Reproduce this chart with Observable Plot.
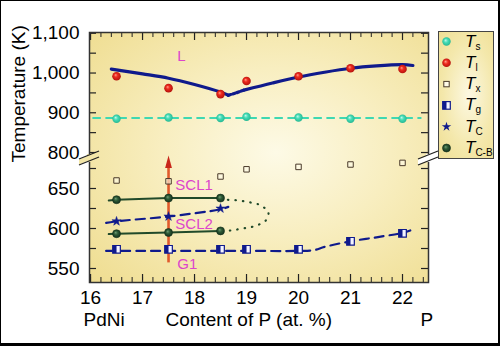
<!DOCTYPE html>
<html><head><meta charset="utf-8">
<script src="https://cdn.jsdelivr.net/npm/d3@7"></script>
<script src="https://cdn.jsdelivr.net/npm/@observablehq/plot@0.6"></script>
<style>
html,body{margin:0;padding:0;background:#fff;}
#wrap{position:relative;width:500px;height:346px;overflow:hidden;font-family:"Liberation Sans",Arial,Helvetica,sans-serif;}
#border{position:absolute;left:0;top:0;width:500px;height:346px;box-sizing:border-box;border-style:solid;border-color:#000;border-width:1px 2px 3px 1px;pointer-events:none;}
#legend{position:absolute;left:438px;top:31px;width:56px;height:128px;box-sizing:border-box;border:1.5px solid #444;
 background:radial-gradient(ellipse at 55% 50%, #fcf8e2 0%, #f4e8ac 60%, #efdf94 100%);}
#legend svg{position:absolute;left:0;top:0;overflow:visible;}
</style></head>
<body><div id="wrap"><div id="chart"></div><div id="legend"></div><div id="border"></div></div>
<script>
// ---------- data ----------
const comp = [16.5, 17.5, 18.5, 19, 20, 21, 22];            // at.% P
const Ts   = [885, 888, 887, 890, 888, 885, 885];
const Tl   = [992, 962, 947, 980, 992, 1012, 1010];
const Tx   = [660, 659, 665, 674, 677, 680, 682];
const Tg   = [574, 574, 574, 574, 574, 584, 594];
const compSCL = [16.5, 17.5, 18.5];
const Tc      = [609, 615, 625];
const TcbHi   = [636, 638, 638];
const TcbLo   = [593.5, 595, 597];

// guide curves
const TsLineX = [16.05, 22.35], TsLineY = [887, 887];
const L1x = [16.4, 17, 17.5, 18, 18.5, 18.65], L1y = [1010, 998, 987, 971, 952, 944];
const L2x = [18.65, 18.8, 18.95], L2y = [944, 950, 957];
const L3x = [18.95, 19.5, 20, 20.5, 21, 21.5, 22, 22.2], L3y = [957, 975, 990, 1002, 1012, 1018, 1021, 1019];
const TgLineX = [16.3, 17, 18, 19, 20, 20.3, 20.5, 21, 21.5, 22, 22.15];
const TgLineY = [572, 572, 572, 572, 572, 573, 577, 584, 589, 594.5, 597.5];
const TcLineX = [16.3, 16.5, 17.5, 18.5, 18.65], TcLineY = [607, 609, 615, 624, 627];
const CBhiX = [16.35, 16.5, 17.5, 18.5], CBhiY = [635, 636, 638, 638];
const CBloX = [16.35, 16.5, 17.5, 18.5], CBloY = [593, 593.5, 595, 597];
const noseX = [18.5, 18.63, 18.85, 19.08, 19.27, 19.42, 19.37, 19.13, 18.92, 18.69, 18.5];
const noseY = [637.5, 636, 635, 632.5, 629, 620, 610, 602.5, 600, 597.5, 597.5];
const arrowX = 17.5, arrowY = [557, 683];

// ticks
const xMajor = [16, 17, 18, 19, 20, 21, 22];
const xMinor = d3.range(16, 22.5, 0.2).map(v => +v.toFixed(1));
const yTicksHi = [800, 850, 900, 950, 1000, 1050, 1100];
const yTicksLo = [550, 575, 600, 625, 650, 675];
const yLabels = [550, 600, 650, 800, 900, 1000, 1100];

// annotations
const regionLabels = [
  {x: 17.67, y: 1043, t: "L"},
  {x: 17.63, y: 654, t: "SCL1"},
  {x: 17.63, y: 606, t: "SCL2"},
  {x: 17.67, y: 555, t: "G1"}
];
const axisTitleY = "Temperature (K)";
const bottomTexts = ["PdNi", "Content of P (at. %)", "P"];

const legendItems = [
  {sym: "Ts", sub: "s"}, {sym: "Tl", sub: "l"}, {sym: "Tx", sub: "x"},
  {sym: "Tg", sub: "g"}, {sym: "Tc", sub: "C"}, {sym: "Tcb", sub: "C-B"}
];

// ---------- helpers ----------
const pts = (xa, ya) => xa.map((x, i) => ({x, y: ya[i]}));
const halfSquare = {draw(ctx, size) { const w = Math.sqrt(size) / 2; ctx.moveTo(-w, -w); ctx.lineTo(0, -w); ctx.lineTo(0, w); ctx.lineTo(-w, w); ctx.closePath(); }};
const arrowHead = {draw(ctx) { ctx.moveTo(0, -6.5); ctx.lineTo(3.4, 6); ctx.lineTo(-3.4, 6); ctx.closePath(); }};

const NAVY = "#0f1a8c", GREEN = "#214a2a", MAG = "#dc45cc";
const FW = 339, FH = 250;

const font = `"Liberation Sans", Arial, Helvetica, sans-serif`;

const plot = Plot.plot({
  width: 500, height: 346,
  marginLeft: 89, marginRight: 72, marginTop: 32, marginBottom: 64,
  style: {fontFamily: font, background: "transparent", overflow: "visible"},
  x: {domain: [15.98, 22.5]},
  y: {type: "linear", domain: [532.5, 687.5, 795, 1102], range: [282, 158, 154, 32]},
  marks: [
    Plot.frame({fill: "url(#bgGrad)", stroke: "none"}),
    // inward ticks
    Plot.ruleX(xMajor, {x: d => d, insetTop: FH - 8, stroke: "#222", strokeWidth: 1.2}),
    Plot.ruleX(xMinor, {x: d => d, insetTop: FH - 5, stroke: "#222", strokeWidth: 1}),
    Plot.ruleX(xMajor, {x: d => d, insetBottom: FH - 8, stroke: "#222", strokeWidth: 1.2}),
    Plot.ruleX(xMinor, {x: d => d, insetBottom: FH - 5, stroke: "#222", strokeWidth: 1}),
    Plot.ruleY(yTicksHi.concat(yTicksLo), {y: d => d, insetRight: FW - 7, stroke: "#222", strokeWidth: 1.2}),
    Plot.ruleY(yTicksHi.concat(yTicksLo), {y: d => d, insetLeft: FW - 7, stroke: "#222", strokeWidth: 1.2}),
    Plot.axisX({ticks: xMajor, tickSize: 0, tickPadding: 8, fontSize: 19, tickFormat: d => d, label: null}),
    Plot.axisY({ticks: yLabels, tickSize: 0, tickPadding: 10, fontSize: 19, tickFormat: d3.format(","), label: null}),
    Plot.text([axisTitleY], {text: d => d, frameAnchor: "left", rotate: -90, dx: -71, dy: 5, fontSize: 19, fill: "#000"}),
    Plot.text([bottomTexts[0]], {text: d => d, frameAnchor: "bottom-left", textAnchor: "start", dx: -6, dy: 43, fontSize: 19}),
    Plot.text([bottomTexts[1]], {text: d => d, frameAnchor: "bottom-left", textAnchor: "start", dx: 76, dy: 43, fontSize: 19}),
    Plot.text([bottomTexts[2]], {text: d => d, frameAnchor: "bottom-left", textAnchor: "start", dx: 331, dy: 43, fontSize: 19}),
    // arrow shaft
    Plot.ruleX([arrowX], {x: d => d, y1: arrowY[0], y2: arrowY[1], stroke: "#e05a2c", strokeWidth: 2.6}),
    // guide lines
    Plot.line(pts(TsLineX, TsLineY), {x: "x", y: "y", stroke: "#3ed8b2", strokeWidth: 2, strokeDasharray: "7,6"}),
    Plot.line(pts(L1x, L1y), {x: "x", y: "y", stroke: NAVY, strokeWidth: 3.2, curve: "catmull-rom"}),
    Plot.line(pts(L2x, L2y), {x: "x", y: "y", stroke: NAVY, strokeWidth: 3.2, strokeDasharray: "2.5,2"}),
    Plot.line(pts(L3x, L3y), {x: "x", y: "y", stroke: NAVY, strokeWidth: 3.2, curve: "catmull-rom"}),
    Plot.line(pts(TgLineX, TgLineY), {x: "x", y: "y", stroke: NAVY, strokeWidth: 2.2, strokeDasharray: "9,6", curve: "catmull-rom"}),
    Plot.line(pts(TcLineX, TcLineY), {x: "x", y: "y", stroke: NAVY, strokeWidth: 2.2, strokeDasharray: "9,6", curve: "catmull-rom"}),
    Plot.line(pts(CBhiX, CBhiY), {x: "x", y: "y", stroke: GREEN, strokeWidth: 2}),
    Plot.line(pts(CBloX, CBloY), {x: "x", y: "y", stroke: GREEN, strokeWidth: 2}),
    Plot.line(pts(noseX, noseY), {x: "x", y: "y", stroke: GREEN, strokeWidth: 2.2, strokeDasharray: "0.5,7", strokeLinecap: "round", curve: "catmull-rom"}),
    // points
    Plot.dot(pts(comp, Tx), {x: "x", y: "y", symbol: "square", r: 3.1, fill: "#fffbe8", fillOpacity: 0.6, stroke: "#4a3a2a", strokeWidth: 1}),
    Plot.dot(pts(comp, Tg), {x: "x", y: "y", symbol: "square", r: 4.3, fill: "#f4f4ff", stroke: NAVY, strokeWidth: 1.2}),
    Plot.dot(pts(comp, Tg), {x: "x", y: "y", symbol: halfSquare, r: 4.3, fill: NAVY, stroke: "none"}),
    Plot.dot(pts(compSCL, Tc), {x: "x", y: "y", symbol: "star", r: 2.9, fill: NAVY, stroke: NAVY, strokeWidth: 0.5}),
    Plot.dot(pts(compSCL, TcbHi), {x: "x", y: "y", r: 4, fill: "url(#gGreen)", stroke: "#12301a", strokeWidth: 0.6}),
    Plot.dot(pts(compSCL, TcbLo), {x: "x", y: "y", r: 4, fill: "url(#gGreen)", stroke: "#12301a", strokeWidth: 0.6}),
    Plot.dot(pts(comp, Ts), {x: "x", y: "y", r: 4.2, fill: "url(#gCyan)"}),
    Plot.dot(pts(comp, Tl), {x: "x", y: "y", r: 4.3, fill: "url(#gRed)"}),
    // arrow head
    Plot.dot([{x: arrowX, y: arrowY[1]}], {x: "x", y: "y", symbol: arrowHead, fill: "#c8261a"}),
    // region labels
    Plot.text(regionLabels, {x: "x", y: "y", text: "t", textAnchor: "start", fill: MAG, fontSize: 15}),
    Plot.frame({stroke: "#333", strokeWidth: 1.5})
  ]
});

// gradients
const svg = d3.select(plot);
const defs = svg.insert("defs", ":first-child");
function radial(id, stops, cx = "50%", cy = "50%", r = "60%", fx, fy) {
  const g = defs.append("radialGradient").attr("id", id).attr("cx", cx).attr("cy", cy).attr("r", r);
  if (fx) g.attr("fx", fx).attr("fy", fy);
  stops.forEach(([o, c]) => g.append("stop").attr("offset", o).attr("stop-color", c));
}
radial("bgGrad", [["0%", "#fdfae6"], ["45%", "#f8eec0"], ["100%", "#efdd90"]], "55%", "48%", "75%");
radial("gRed", [["0%", "#ff9a86"], ["35%", "#ee2a1e"], ["100%", "#a40c08"]], "50%", "50%", "60%", "38%", "35%");
radial("gCyan", [["0%", "#bff8e8"], ["40%", "#44dcb6"], ["100%", "#1fae8a"]], "50%", "50%", "60%", "38%", "35%");
radial("gGreen", [["0%", "#6f9a74"], ["40%", "#2d5a35"], ["100%", "#10281a"]], "50%", "50%", "60%", "38%", "35%");

// axis break marks
const ys = plot.scale("y");
const yb = (ys.apply(795) + ys.apply(687.5)) / 2 + 2;
[89, 428].forEach(cx => {
  const g = svg.append("g");
  const dx = 10, s = 0.4;
  g.append("path").attr("d", `M${cx - dx},${yb - 2.5 + dx * s}L${cx + dx},${yb - 2.5 - dx * s}L${cx + dx},${yb + 2.5 - dx * s}L${cx - dx},${yb + 2.5 + dx * s}Z`)
    .attr("fill", cx < 200 ? "#f3e6a8" : "#ffffff").attr("stroke", "none");
  g.append("path").attr("d", `M${cx - 2},${yb - 4}L${cx + 2},${yb - 4}L${cx + 2},${yb + 4}L${cx - 2},${yb + 4}Z`).attr("fill", cx < 200 ? "#f3e6a8" : "#fff");
  [-3, 3].forEach(o => g.append("line")
    .attr("x1", cx - dx).attr("y1", yb + o + dx * s).attr("x2", cx + dx).attr("y2", yb + o - dx * s)
    .attr("stroke", "#222").attr("stroke-width", 1.3));
});
document.getElementById("chart").appendChild(plot);

// legend
const lg = d3.select("#legend").append("svg").attr("width", 53).attr("height", 125);
const ldefs = lg.append("defs");
[["lRed", "#ff9a86", "#ee2a1e", "#a40c08"], ["lCyan", "#bff8e8", "#44dcb6", "#1fae8a"], ["lGreen", "#6f9a74", "#2d5a35", "#10281a"]].forEach(([id, a, b, c]) => {
  const g = ldefs.append("radialGradient").attr("id", id).attr("fx", "38%").attr("fy", "35%").attr("r", "60%");
  g.append("stop").attr("offset", "0%").attr("stop-color", a);
  g.append("stop").attr("offset", "40%").attr("stop-color", b);
  g.append("stop").attr("offset", "100%").attr("stop-color", c);
});
legendItems.forEach((it, i) => {
  const cy = 9.5 + i * 21.3, cx = 7.5;
  const g = lg.append("g");
  if (it.sym === "Ts") g.append("circle").attr("cx", cx).attr("cy", cy).attr("r", 4.2).attr("fill", "url(#lCyan)");
  if (it.sym === "Tl") g.append("circle").attr("cx", cx).attr("cy", cy).attr("r", 4.3).attr("fill", "url(#lRed)");
  if (it.sym === "Tcb") g.append("circle").attr("cx", cx).attr("cy", cy).attr("r", 4).attr("fill", "url(#lGreen)").attr("stroke", "#12301a").attr("stroke-width", 0.6);
  if (it.sym === "Tx") g.append("rect").attr("x", cx - 2.7).attr("y", cy - 2.7).attr("width", 5.4).attr("height", 5.4).attr("fill", "#fffbe8").attr("stroke", "#4a3a2a");
  if (it.sym === "Tg") {
    g.append("rect").attr("x", cx - 3.8).attr("y", cy - 3.8).attr("width", 7.6).attr("height", 7.6).attr("fill", "#f4f4ff").attr("stroke", NAVY).attr("stroke-width", 1.2);
    g.append("rect").attr("x", cx - 3.8).attr("y", cy - 3.8).attr("width", 3.8).attr("height", 7.6).attr("fill", NAVY);
  }
  if (it.sym === "Tc") g.append("path").attr("transform", `translate(${cx},${cy})`).attr("d", d3.symbol(d3.symbolStar, 28)()).attr("fill", NAVY);
  const t = g.append("text").attr("x", 26).attr("y", cy + 5).attr("font-family", font).attr("font-size", 17).attr("font-style", "italic").text("T");
  t.append("tspan").attr("font-style", "normal").attr("font-size", 10).attr("dx", 0).attr("dy", 3).text(it.sub);
});
</script>
</body></html>
